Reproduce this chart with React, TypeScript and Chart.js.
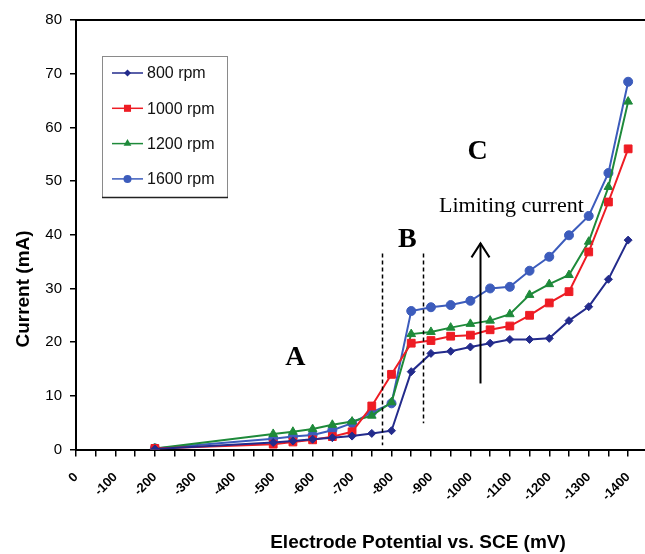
import React, { useEffect, useRef } from "react";
import { Chart, registerables } from "chart.js";

Chart.register(...registerables);

// ---- data (mV vs mA) ----
const potentials = [-200, -500, -550, -600, -650, -700, -750, -800, -850, -900, -950, -1000, -1050, -1100, -1150, -1200, -1250, -1300, -1350, -1400];
const rpm800 = [0.1, 1.3, 1.6, 1.9, 2.2, 2.5, 3.0, 3.5, 14.5, 17.9, 18.3, 19.1, 19.8, 20.5, 20.5, 20.7, 24.0, 26.6, 31.7, 39.0];
const rpm1000 = [0.2, 1.0, 1.4, 1.8, 2.4, 3.3, 8.1, 14.0, 19.8, 20.3, 21.1, 21.3, 22.3, 23.0, 25.0, 27.3, 29.4, 36.8, 46.1, 56.0];
const rpm1200 = [0.2, 2.9, 3.3, 3.8, 4.6, 5.2, 6.3, 8.8, 21.5, 21.9, 22.7, 23.4, 24.0, 25.2, 28.8, 30.8, 32.5, 38.7, 48.9, 64.8];
const rpm1600 = [0.2, 2.0, 2.4, 2.7, 3.6, 4.9, 6.9, 8.6, 25.8, 26.5, 26.9, 27.7, 30.0, 30.3, 33.3, 35.9, 39.9, 43.5, 51.5, 68.5];
const seriesLabels = ["800 rpm", "1000 rpm", "1200 rpm", "1600 rpm"];
const xTickValues = [0, -50, -100, -150, -200, -250, -300, -350, -400, -450, -500, -550, -600, -650, -700, -750, -800, -850, -900, -950, -1000, -1050, -1100, -1150, -1200, -1250, -1300, -1350, -1400];
const xTitle = "Electrode Potential vs. SCE (mV)";
const yTitle = "Current (mA)";

// annotation anchors in data units
const regionLetters = [
  { text: "A", x: -556, y: 17.0 },
  { text: "B", x: -840, y: 39.0 },
  { text: "C", x: -1018, y: 55.4 },
];
const limitingText = { text: "Limiting current", x: -1104, y: 44.2 };
const arrowSpec = { x: -1025, y0: 12.3, y1: 38.4 };
const dashedBounds = [
  { x: -777, y0: 0.8, y1: 36.5 },
  { x: -881, y0: 4.9, y1: 36.5 },
];

const styles = [
  { color: "#232B8C", point: "rectRot", r: 4, lr: 3.5 },
  { color: "#EE1C24", point: "rect", r: 5.5, lr: 5 },
  { color: "#1E8A3A", point: "triangle", r: 5, lr: 4.5 },
  { color: "#3C5CBC", point: "circle", r: 4.5, lr: 4 },
];

function drawMarker(ctx: CanvasRenderingContext2D, style: string, x: number, y: number, r: number, color: string) {
  ctx.save();
  ctx.fillStyle = color;
  ctx.beginPath();
  if (style === "circle") {
    ctx.arc(x, y, r, 0, Math.PI * 2);
  } else if (style === "rect") {
    const s = r * Math.SQRT1_2;
    ctx.rect(x - s, y - s, 2 * s, 2 * s);
  } else if (style === "rectRot") {
    ctx.moveTo(x - r, y);
    ctx.lineTo(x, y - r);
    ctx.lineTo(x + r, y);
    ctx.lineTo(x, y + r);
    ctx.closePath();
  } else {
    ctx.moveTo(x, y - r);
    ctx.lineTo(x + r * 0.866, y + r * 0.5);
    ctx.lineTo(x - r * 0.866, y + r * 0.5);
    ctx.closePath();
  }
  ctx.fill();
  ctx.restore();
}

const decorPlugin = {
  id: "decor",
  beforeDatasetsDraw(chart: any) {
    const ctx = chart.ctx as CanvasRenderingContext2D;
    const { left, right, top } = chart.chartArea;
    ctx.save();
    ctx.strokeStyle = "#000";
    ctx.lineWidth = 2;
    ctx.beginPath();
    ctx.moveTo(left - 1, top);
    ctx.lineTo(right + 10, top);
    ctx.stroke();
    ctx.restore();
  },
  afterDraw(chart: any) {
    const ctx = chart.ctx as CanvasRenderingContext2D;
    const xs = chart.scales.x;
    const ys = chart.scales.y;
    ctx.save();

    // dashed boundaries
    ctx.strokeStyle = "#000";
    ctx.lineWidth = 1.5;
    ctx.setLineDash([4, 3]);
    dashedBounds.forEach((d) => {
      const x = Math.round(xs.getPixelForValue(d.x)) + 0.5;
      ctx.beginPath();
      ctx.moveTo(x, ys.getPixelForValue(d.y1));
      ctx.lineTo(x, ys.getPixelForValue(d.y0));
      ctx.stroke();
    });
    ctx.setLineDash([]);

    // arrow
    const ax = Math.round(xs.getPixelForValue(arrowSpec.x)) + 0.5;
    const ay0 = ys.getPixelForValue(arrowSpec.y0);
    const ay1 = ys.getPixelForValue(arrowSpec.y1);
    ctx.lineWidth = 2;
    ctx.beginPath();
    ctx.moveTo(ax, ay0);
    ctx.lineTo(ax, ay1);
    ctx.stroke();
    ctx.beginPath();
    ctx.moveTo(ax - 9, ay1 + 14);
    ctx.lineTo(ax, ay1);
    ctx.lineTo(ax + 9, ay1 + 14);
    ctx.stroke();

    // letters
    ctx.fillStyle = "#000";
    ctx.font = "bold 28px 'Liberation Serif', 'Times New Roman', serif";
    ctx.textAlign = "center";
    ctx.textBaseline = "middle";
    regionLetters.forEach((l) => {
      ctx.fillText(l.text, xs.getPixelForValue(l.x), ys.getPixelForValue(l.y));
    });

    ctx.font = "22px 'Liberation Serif', 'Times New Roman', serif";
    ctx.textBaseline = "alphabetic";
    ctx.fillText(limitingText.text, xs.getPixelForValue(limitingText.x), ys.getPixelForValue(limitingText.y));

    // axis titles
    ctx.font = "bold 19px 'Liberation Sans', Arial, sans-serif";
    ctx.textBaseline = "middle";
    ctx.fillText(xTitle, 418, 543);
    ctx.save();
    ctx.translate(24, 289);
    ctx.rotate(-Math.PI / 2);
    ctx.fillText(yTitle, 0, 0);
    ctx.restore();

    // legend box
    const lx = 102, ly = 56, lw = 125, lh = 141;
    ctx.fillStyle = "#fff";
    ctx.fillRect(lx, ly, lw, lh);
    ctx.strokeStyle = "#8a8a8a";
    ctx.lineWidth = 1;
    ctx.strokeRect(lx + 0.5, ly + 0.5, lw, lh);
    ctx.strokeStyle = "#222";
    ctx.lineWidth = 1.5;
    ctx.beginPath();
    ctx.moveTo(lx, ly + lh + 0.5);
    ctx.lineTo(lx + lw + 1, ly + lh + 0.5);
    ctx.stroke();

    ctx.font = "16px 'Liberation Sans', Arial, sans-serif";
    ctx.textAlign = "left";
    ctx.textBaseline = "middle";
    chart.data.datasets.forEach((ds: any, i: number) => {
      const st = styles[i];
      const y = 73 + i * 35.3;
      ctx.strokeStyle = st.color;
      ctx.lineWidth = 1.5;
      ctx.beginPath();
      ctx.moveTo(112, y);
      ctx.lineTo(143, y);
      ctx.stroke();
      drawMarker(ctx, st.point, 127.5, y, st.lr, st.color);
      ctx.fillStyle = "#111";
      ctx.fillText(ds.label, 147, y + 1);
    });

    ctx.restore();
  },
};

export default function App() {
  const ref = useRef<HTMLCanvasElement | null>(null);

  useEffect(() => {
    if (!ref.current) return;
    const all = [rpm800, rpm1000, rpm1200, rpm1600];
    const chart = new Chart(ref.current, {
      type: "line",
      data: {
        datasets: all.map((vals, i) => ({
          label: seriesLabels[i],
          data: potentials.map((p, j) => ({ x: p, y: vals[j] })),
          borderColor: styles[i].color,
          backgroundColor: styles[i].color,
          pointStyle: styles[i].point as any,
          pointRadius: styles[i].r,
          pointBorderWidth: 1,
          borderWidth: 2,
          tension: 0,
          fill: false,
        })),
      },
      options: {
        responsive: false,
        animation: false,
        devicePixelRatio: 1,
        layout: { padding: { top: 20, left: 0, right: 0, bottom: 0 } },
        plugins: {
          legend: { display: false },
          tooltip: { enabled: false },
        },
        scales: {
          x: {
            type: "linear",
            reverse: true,
            min: -1444,
            max: 0,
            afterBuildTicks: (scale: any) => {
              scale.ticks = xTickValues.map((v) => ({ value: v }));
            },
            afterFit: (scale: any) => {
              scale.height = 104.5;
              scale.paddingLeft = 0;
              scale.paddingRight = 0;
            },
            grid: {
              drawOnChartArea: false,
              drawTicks: true,
              tickLength: 7,
              color: "#000",
              lineWidth: 1.5,
            },
            border: { display: true, color: "#000", width: 2 },
            ticks: {
              autoSkip: false,
              minRotation: 45,
              maxRotation: 45,
              padding: 13,
              color: "#000",
              font: { family: "'Liberation Sans', Arial, sans-serif", size: 13, weight: "bold" },
              callback: (value: any) => (Number(value) % 100 === 0 ? String(value) : ""),
            },
          },
          y: {
            min: 0,
            max: 80,
            afterFit: (scale: any) => {
              scale.width = 76;
              scale.paddingTop = 0;
              scale.paddingBottom = 0;
            },
            grid: {
              drawOnChartArea: false,
              drawTicks: true,
              tickLength: 6,
              color: "#000",
              lineWidth: 1.5,
            },
            border: { display: true, color: "#000", width: 2 },
            ticks: {
              stepSize: 10,
              padding: 8,
              color: "#000",
              font: { family: "'Liberation Sans', Arial, sans-serif", size: 15 },
            },
          },
        },
      },
      plugins: [decorPlugin],
    });
    return () => chart.destroy();
  }, []);

  return (
    <div style={{ position: "absolute", left: 0, top: 0, width: 645, height: 554, overflow: "hidden", background: "#fff" }}>
      <canvas ref={ref} width={652} height={554} style={{ display: "block", width: 652, height: 554 }} />
    </div>
  );
}
